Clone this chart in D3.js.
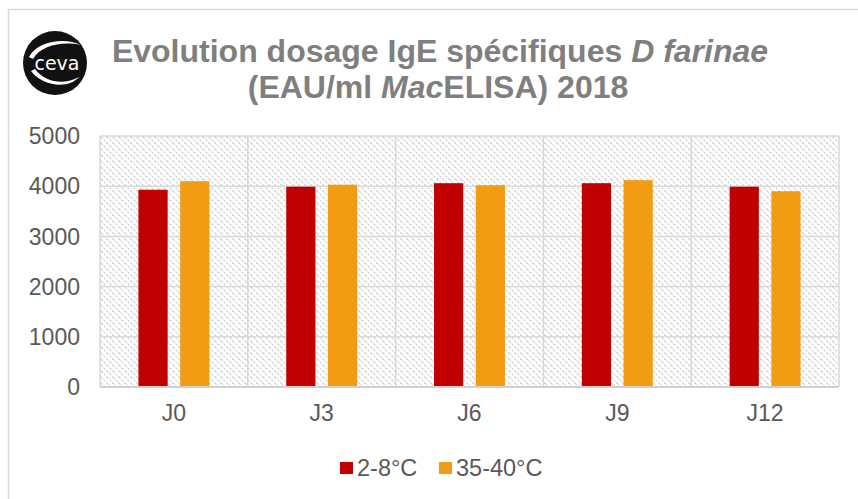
<!DOCTYPE html>
<html><head><meta charset="utf-8">
<script src="https://cdn.jsdelivr.net/npm/d3@7"></script>
<style>body{margin:0;background:#fff;} svg{display:block;font-family:"Liberation Sans",Arial,sans-serif;}</style>
</head><body>
<svg id="chart" width="858" height="499"></svg>
<script>
const categories = ["J0","J3","J6","J9","J12"];
const seriesNames = ["2-8°C","35-40°C"];
const seriesColors = ["#c00000","#f29c13"];
const values28 = [3930, 3990, 4060, 4060, 3990];
const values3540 = [4100, 4030, 4020, 4120, 3900];
const yTicks = [0,1000,2000,3000,4000,5000];

const svg = d3.select("#chart");
const margin = {left:100, right:19, top:136, bottom:112};
const W = 858, H = 499;
const x = d3.scaleBand().domain(categories).range([margin.left, W - margin.right]);
const y = d3.scaleLinear().domain([0,5000]).range([H - margin.bottom, margin.top]);
const bw = x.bandwidth();
const xs = d3.scaleBand().domain(seriesNames).range([bw*0.26, bw*0.74]).paddingInner(0.3);

// frame
svg.append("path").attr("d", `M8.5,${H} V9.5 H${W}`).attr("fill","none").attr("stroke","#d9d9d9").attr("stroke-width",1.5);

// pattern
const defs = svg.append("defs");
const pat = defs.append("pattern").attr("id","hatch").attr("patternUnits","userSpaceOnUse").attr("width",6).attr("height",6);
pat.append("rect").attr("width",6).attr("height",6).attr("fill","#fff");
pat.append("path").attr("d","M-1,-1 L7,7 M-1,5 L1,7 M5,-1 L7,1").attr("stroke","#cdcdcd").attr("stroke-width",1.2).attr("stroke-dasharray","2.5,1.2");

svg.append("rect").attr("x",margin.left).attr("y",margin.top)
  .attr("width",W-margin.right-margin.left).attr("height",H-margin.bottom-margin.top)
  .attr("fill","url(#hatch)");

// grid
svg.append("g").selectAll("line").data(yTicks).join("line")
  .attr("x1",margin.left).attr("x2",W-margin.right)
  .attr("y1",d=>y(d)).attr("y2",d=>y(d))
  .attr("stroke","#d9d9d9").attr("stroke-width",1.5);
const bounds = categories.map(c=>x(c)).concat([W-margin.right]);
svg.append("g").selectAll("line").data(bounds).join("line")
  .attr("x1",d=>d).attr("x2",d=>d)
  .attr("y1",margin.top).attr("y2",H-margin.bottom)
  .attr("stroke","#d9d9d9").attr("stroke-width",1.5);

// bars
const data = categories.map((c,i)=>({c, vals:[values28[i], values3540[i]]}));
const g = svg.append("g");
data.forEach(d=>{
  d.vals.forEach((v,j)=>{
    g.append("rect").attr("x", x(d.c)+xs(seriesNames[j])).attr("width", xs.bandwidth())
      .attr("y", y(v)).attr("height", y(0)-y(v)).attr("fill", seriesColors[j]);
  });
});

// x axis line
svg.append("line").attr("x1",margin.left).attr("x2",W-margin.right)
  .attr("y1",y(0)).attr("y2",y(0)).attr("stroke","#d0d0d0").attr("stroke-width",2);

// y labels
svg.append("g").selectAll("text").data(yTicks).join("text")
  .attr("x",80).attr("y",d=>y(d)).attr("dy","0.36em").attr("text-anchor","end")
  .attr("font-size",23).attr("fill","#595959").text(d=>d);

// x labels
svg.append("g").selectAll("text").data(categories).join("text")
  .attr("x",d=>x(d)+bw/2).attr("y",421).attr("text-anchor","middle")
  .attr("font-size",23).attr("fill","#595959").text(d=>d);

// legend
const leg = svg.append("g");
const legItems = [{x:340,tx:357},{x:439,tx:456}];
seriesNames.forEach((s,i)=>{
  leg.append("rect").attr("x",legItems[i].x).attr("y",462).attr("width",13).attr("height",12).attr("fill",seriesColors[i]);
  leg.append("text").attr("x",legItems[i].tx).attr("y",476).attr("font-size",23.5).attr("fill","#595959").text(s);
});

// title
const t1 = svg.append("text").attr("x",440).attr("y",62).attr("text-anchor","middle")
  .attr("font-size",32).attr("font-weight","bold").attr("fill","#7f7f7f");
t1.append("tspan").text("Evolution dosage IgE spécifiques ");
t1.append("tspan").attr("font-style","italic").text("D farinae");
const t2 = svg.append("text").attr("x",438).attr("y",98).attr("text-anchor","middle")
  .attr("font-size",32).attr("font-weight","bold").attr("fill","#7f7f7f");
t2.append("tspan").text("(EAU/ml ");
t2.append("tspan").attr("font-style","italic").text("Mac");
t2.append("tspan").text("ELISA) 2018");

// logo
const logo = svg.append("g").attr("transform","translate(55,63)");
logo.append("circle").attr("r",32).attr("fill","#111");
logo.append("path").attr("d","M-26,-6 C-18,-22 10,-26 26,-18 C8,-22 -14,-18 -22,-4 Z").attr("fill","#fff");
logo.append("path").attr("d","M-24,8 C-12,24 14,26 24,14 C10,22 -10,20 -20,6 Z").attr("fill","#fff");
logo.append("text").attr("x",2).attr("y",7).attr("text-anchor","middle").attr("font-size",19)
  .attr("fill","#fff").attr("font-family","DejaVu Sans").text("ceva");
</script>
</body></html>
